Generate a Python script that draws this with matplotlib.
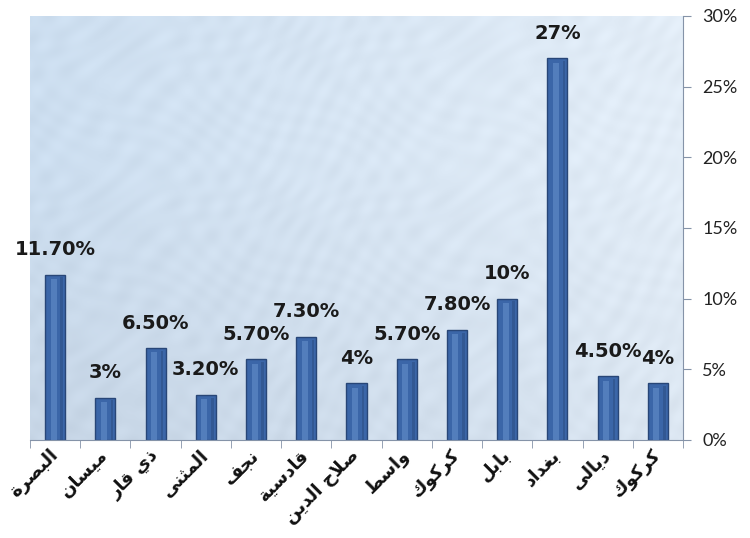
import numpy as np
import matplotlib
matplotlib.use("Agg")
import matplotlib.pyplot as plt
from matplotlib.ticker import FixedLocator, PercentFormatter

# governorate shares (fraction of total)
provinces = ["البصرة", "ميسان", "ذي قار", "المثنى", "نجف", "قادسية",
             "صلاح الدين", "واسط", "كركوك", "بابل", "بغداد", "ديالى", "كركوك"]
shares = [0.117, 0.03, 0.065, 0.032, 0.057, 0.073,
          0.04, 0.057, 0.078, 0.10, 0.27, 0.045, 0.04]
share_labels = ["11.70%", "3%", "6.50%", "3.20%", "5.70%", "7.30%",
                "4%", "5.70%", "7.80%", "10%", "27%", "4.50%", "4%"]
y_ticks = [0.0, 0.05, 0.10, 0.15, 0.20, 0.25, 0.30]

# ---------------------------------------------------------------------
# matplotlib has no Arabic shaping, so pick the contextual presentation
# forms by hand and lay the string out in visual (left-to-right) order.
# tuple = (isolated, final, initial, medial)
# ---------------------------------------------------------------------
FORMS = {
    "ا": (0xFE8D, 0xFE8E, None, None),
    "ب": (0xFE8F, 0xFE90, 0xFE91, 0xFE92),
    "ة": (0xFE93, 0xFE94, None, None),
    "ت": (0xFE95, 0xFE96, 0xFE97, 0xFE98),
    "ث": (0xFE99, 0xFE9A, 0xFE9B, 0xFE9C),
    "ج": (0xFE9D, 0xFE9E, 0xFE9F, 0xFEA0),
    "ح": (0xFEA1, 0xFEA2, 0xFEA3, 0xFEA4),
    "د": (0xFEA9, 0xFEAA, None, None),
    "ذ": (0xFEAB, 0xFEAC, None, None),
    "ر": (0xFEAD, 0xFEAE, None, None),
    "س": (0xFEB1, 0xFEB2, 0xFEB3, 0xFEB4),
    "ص": (0xFEB9, 0xFEBA, 0xFEBB, 0xFEBC),
    "ط": (0xFEC1, 0xFEC2, 0xFEC3, 0xFEC4),
    "غ": (0xFECD, 0xFECE, 0xFECF, 0xFED0),
    "ف": (0xFED1, 0xFED2, 0xFED3, 0xFED4),
    "ق": (0xFED5, 0xFED6, 0xFED7, 0xFED8),
    "ك": (0xFED9, 0xFEDA, 0xFEDB, 0xFEDC),
    "ل": (0xFEDD, 0xFEDE, 0xFEDF, 0xFEE0),
    "م": (0xFEE1, 0xFEE2, 0xFEE3, 0xFEE4),
    "ن": (0xFEE5, 0xFEE6, 0xFEE7, 0xFEE8),
    "و": (0xFEED, 0xFEEE, None, None),
    "ى": (0xFEEF, 0xFEF0, None, None),
    "ي": (0xFEF1, 0xFEF2, 0xFEF3, 0xFEF4),
}


def joins_forward(ch):
    return ch in FORMS and FORMS[ch][2] is not None


def shape_arabic(text):
    out = []
    i = 0
    while i < len(text):
        ch = text[i]
        if ch not in FORMS:
            out.append(ch)
            i += 1
            continue
        prev = text[i - 1] if i > 0 else ""
        back = joins_forward(prev)
        # lam + alef ligature
        if ch == "ل" and i + 1 < len(text) and text[i + 1] == "ا":
            out.append(chr(0xFEFC if back else 0xFEFB))
            i += 2
            continue
        nxt = text[i + 1] if i + 1 < len(text) else ""
        fwd = joins_forward(ch) and nxt in FORMS
        iso, fin, ini, med = FORMS[ch]
        if back and fwd:
            code = med
        elif back:
            code = fin
        elif fwd:
            code = ini
        else:
            code = iso
        out.append(chr(code))
        i += 1
    return "".join(reversed(out))


# ---------------------------------------------------------------------
fig = plt.figure(figsize=(7.5, 5.38), dpi=100)
fig.patch.set_facecolor("white")
ax = fig.add_axes([30 / 750, 98 / 538, 653 / 750, 424 / 538])

n = len(provinces)
x = np.arange(n)
ax.set_xlim(-0.5, n - 0.5)
ax.set_ylim(0, 0.30)

# pale blue plot-area fill, lighter towards the upper right, with a faint
# fine-grained marbling
gx, gy = np.meshgrid(np.linspace(0, 1, 400), np.linspace(0, 1, 280))
left = np.array([0.80, 0.87, 0.94])
right = np.array([0.89, 0.93, 0.97])
bottom_tint = np.array([0.76, 0.81, 0.87])
mottle = 0.010 * (np.sin(gx * 93 + 4 * np.sin(gy * 17)) * np.sin(gy * 81 + 3 * np.sin(gx * 23))
                  + 0.7 * np.sin(gx * 151 - gy * 67 + 5 * np.cos(gx * 11)))
rgb = left[None, None, :] * (1 - gx[..., None]) + right[None, None, :] * gx[..., None]
w_bot = np.clip(1 - gy * 1.5, 0, 1)[..., None] * (1 - 0.6 * gx[..., None]) * 0.55
rgb = rgb * (1 - w_bot) + bottom_tint[None, None, :] * w_bot + mottle[..., None]
ax.imshow(np.clip(rgb, 0, 1), extent=(-0.5, n - 0.5, 0, 0.30), origin="lower",
          aspect="auto", zorder=0, interpolation="bilinear")

# bars with a lighter centre strip for the bevelled look
ax.bar(x, shares, width=0.4, color="#3b66a8", edgecolor="#284677",
       linewidth=1.0, zorder=2)
ax.bar(x - 0.03, np.array(shares) - 0.003, width=0.12, color="#5c87c4",
       alpha=0.75, linewidth=0, zorder=3)
ax.bar(x + 0.13, np.array(shares) - 0.002, width=0.05, color="#2c4f86",
       alpha=0.6, linewidth=0, zorder=3)

for xi, v, lab in zip(x, shares, share_labels):
    ax.annotate(lab, (xi, v), xytext=(0, 18), textcoords="offset points",
                ha="center", va="center", fontsize=14, fontweight="bold",
                family="DejaVu Sans", color="#1a1a1a", zorder=4)

# axes styling: value axis on the right, category ticks between bars
for side in ("top", "left"):
    ax.spines[side].set_visible(False)
ax.spines["right"].set_color("#8593a8")
ax.spines["bottom"].set_color("#8593a8")
ax.spines["right"].set_zorder(5)

ax.yaxis.tick_right()
ax.yaxis.set_major_locator(FixedLocator(y_ticks))
ax.yaxis.set_major_formatter(PercentFormatter(1.0, decimals=0))
ax.tick_params(axis="y", direction="out", length=6, color="#8593a8",
               labelsize=13, labelcolor="#222222", pad=8)
for t in ax.get_yticklabels():
    t.set_family("Lato")

ax.set_xticks(x)
ax.set_xticks(np.arange(-0.5, n, 1.0), minor=True)
ax.tick_params(axis="x", which="major", length=0, pad=9)
ax.tick_params(axis="x", which="minor", direction="out", length=6,
               color="#8593a8")
ax.set_xticklabels([shape_arabic(p) for p in provinces], rotation=45,
                   ha="right", va="center", rotation_mode="anchor",
                   fontsize=13, fontweight="bold", family="DejaVu Sans",
                   color="#111111")

fig.savefig("out.png", dpi=100)
